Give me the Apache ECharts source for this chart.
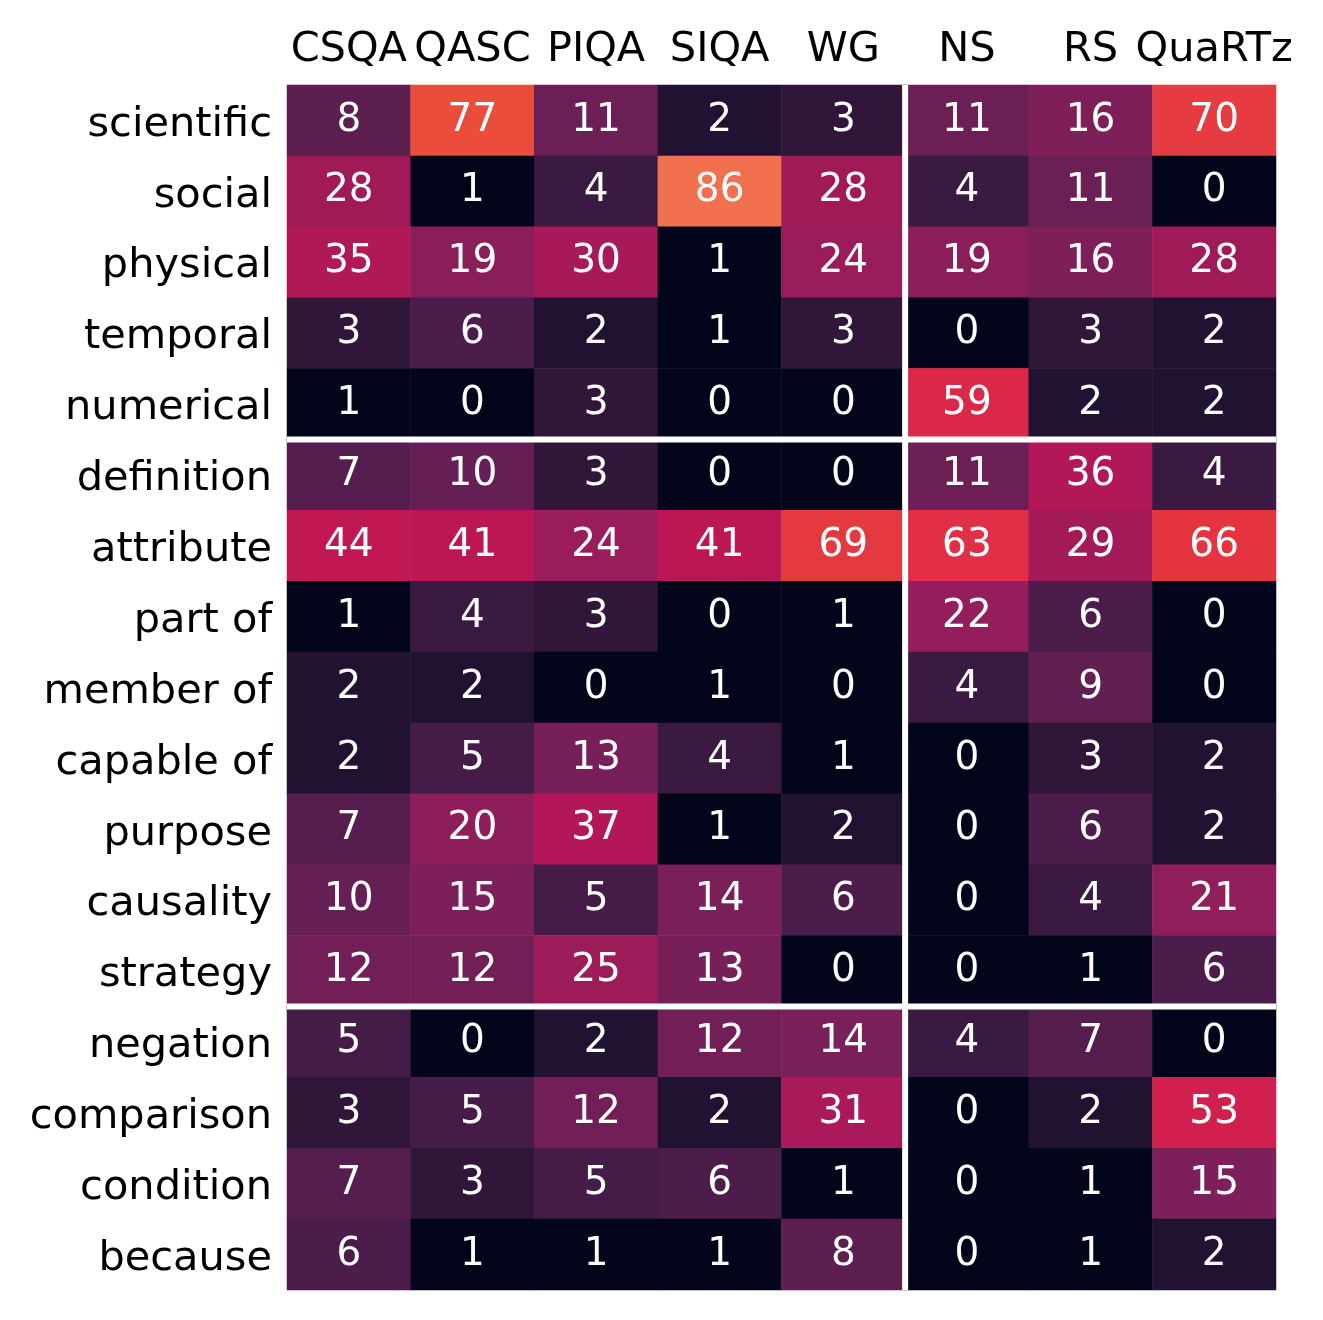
<!DOCTYPE html>
<html>
<head>
<meta charset="utf-8">
<script src="https://cdn.jsdelivr.net/npm/echarts@6/dist/echarts.min.js"></script>
<style>
  html, body { margin: 0; padding: 0; background: #fff; }
  #chart { width: 1323px; height: 1320px; }
</style>
</head>
<body>
<div id="chart"></div>
<script>
// columns (datasets) and rows (knowledge / reasoning types)
const datasets = ['CSQA', 'QASC', 'PIQA', 'SIQA', 'WG', 'NS', 'RS', 'QuaRTz'];
const types = ['scientific', 'social', 'physical', 'temporal', 'numerical',
  'definition', 'attribute', 'part of', 'member of', 'capable of', 'purpose',
  'causality', 'strategy', 'negation', 'comparison', 'condition', 'because'];

// one row per type, values in dataset order
const scientific = [8, 77, 11, 2, 3, 11, 16, 70];
const social = [28, 1, 4, 86, 28, 4, 11, 0];
const physical = [35, 19, 30, 1, 24, 19, 16, 28];
const temporal = [3, 6, 2, 1, 3, 0, 3, 2];
const numerical = [1, 0, 3, 0, 0, 59, 2, 2];
const definition = [7, 10, 3, 0, 0, 11, 36, 4];
const attribute = [44, 41, 24, 41, 69, 63, 29, 66];
const partOf = [1, 4, 3, 0, 1, 22, 6, 0];
const memberOf = [2, 2, 0, 1, 0, 4, 9, 0];
const capableOf = [2, 5, 13, 4, 1, 0, 3, 2];
const purpose = [7, 20, 37, 1, 2, 0, 6, 2];
const causality = [10, 15, 5, 14, 6, 0, 4, 21];
const strategy = [12, 12, 25, 13, 0, 0, 1, 6];
const negation = [5, 0, 2, 12, 14, 4, 7, 0];
const comparison = [3, 5, 12, 2, 31, 0, 2, 53];
const condition = [7, 3, 5, 6, 1, 0, 1, 15];
const because = [6, 1, 1, 1, 8, 0, 1, 2];

const rows = [scientific, social, physical, temporal, numerical, definition,
  attribute, partOf, memberOf, capableOf, purpose, causality, strategy,
  negation, comparison, condition, because];

// group boundaries (drawn as white gaps before these indices)
const colBreaks = [5];
const rowBreaks = [5, 13];

// colour scale (rocket-like, dark to orange), stops by value
const stopValues = [0, 1, 2, 3, 4, 5, 6, 7, 9, 10, 11, 12, 14, 16, 19, 20, 24, 28, 31, 35, 37, 41, 44, 53, 59, 63, 66, 70, 77, 86];
const stopColors = ['#03051a', '#03051a', '#201230', '#30173a', '#3b1a42', '#451b47', '#4c1d4b', '#551e4e',
  '#621f52', '#661f55', '#6b1f55', '#721f57', '#791f59', '#7f1f5a', '#891e5b', '#8d1e5b', '#9a1c5a',
  '#a01a58', '#aa1959', '#b01856', '#b31757', '#bc1754', '#c11752', '#d1204e', '#db2848', '#e02f46',
  '#e3343f', '#e63b40', '#eb4d3d', '#f2704e'];

function hexToRgb(h) {
  return [parseInt(h.slice(1, 3), 16), parseInt(h.slice(3, 5), 16), parseInt(h.slice(5, 7), 16)];
}
function colorAt(v) {
  let i = 0;
  while (i < stopValues.length - 2 && v > stopValues[i + 1]) i++;
  const a = hexToRgb(stopColors[i]), b = hexToRgb(stopColors[i + 1]);
  const t = (v - stopValues[i]) / (stopValues[i + 1] - stopValues[i]);
  const c = a.map((x, k) => Math.round(x + (b[k] - x) * t));
  return 'rgb(' + c.join(',') + ')';
}
const vmax = stopValues[stopValues.length - 1];
const palette = [];
for (let v = 0; v <= vmax; v++) palette.push(colorAt(v));

const cells = [];
rows.forEach((row, r) => row.forEach((v, c) => cells.push([c, r, v])));

// separator items: [column index, row index]; -1 means "not this direction"
const breaks = colBreaks.map(i => [i, -1]).concat(rowBreaks.map(i => [-1, i]));

function renderBreak(params, api) {
  const cs = params.coordSys;
  const item = breaks[params.dataIndex];
  const band = api.size([1, 1]);
  let shape;
  if (item[0] >= 0) {
    const x = api.coord([item[0], 0])[0] - band[0] / 2;
    shape = { x1: x, y1: cs.y, x2: x, y2: cs.y + cs.height };
  } else {
    const y = api.coord([0, item[1]])[1] - band[1] / 2;
    shape = { x1: cs.x, y1: y, x2: cs.x + cs.width, y2: y };
  }
  return { type: 'line', shape: shape, style: { stroke: '#fff', lineWidth: 6 } };
}

const font = 'DejaVu Sans';
const chart = echarts.init(document.getElementById('chart'), null, { renderer: 'canvas' });
chart.setOption({
  animation: false,
  backgroundColor: '#fff',
  grid: { left: 287, right: 47, top: 85, bottom: 30 },
  xAxis: {
    type: 'category',
    data: datasets,
    position: 'top',
    axisLine: { show: false },
    axisTick: { show: false },
    axisLabel: { color: '#000', fontSize: 41.5, fontFamily: font, margin: 14, interval: 0 },
    splitLine: { show: false }
  },
  yAxis: {
    type: 'category',
    data: types,
    inverse: true,
    axisLine: { show: false },
    axisTick: { show: false },
    axisLabel: {
      color: '#000', fontSize: 41.5, fontFamily: font, margin: 15, interval: 0,
      formatter: (v) => '{t|' + v + '}',
      rich: { t: { color: '#000', fontSize: 41.5, fontFamily: font, padding: [9, 0, 0, 0] } }
    },
    splitLine: { show: false }
  },
  visualMap: {
    show: false,
    type: 'continuous',
    min: 0,
    max: vmax,
    dimension: 2,
    seriesIndex: 0,
    inRange: { color: palette }
  },
  series: [{
    type: 'heatmap',
    data: cells,
    label: {
      show: true,
      color: '#fff',
      fontSize: 39,
      fontFamily: font,
      formatter: (p) => String(p.value[2])
    },
    emphasis: { disabled: true }
  }, {
    type: 'custom',
    data: breaks,
    renderItem: renderBreak,
    clip: false,
    z: 10,
    silent: true
  }]
});
</script>
</body>
</html>
